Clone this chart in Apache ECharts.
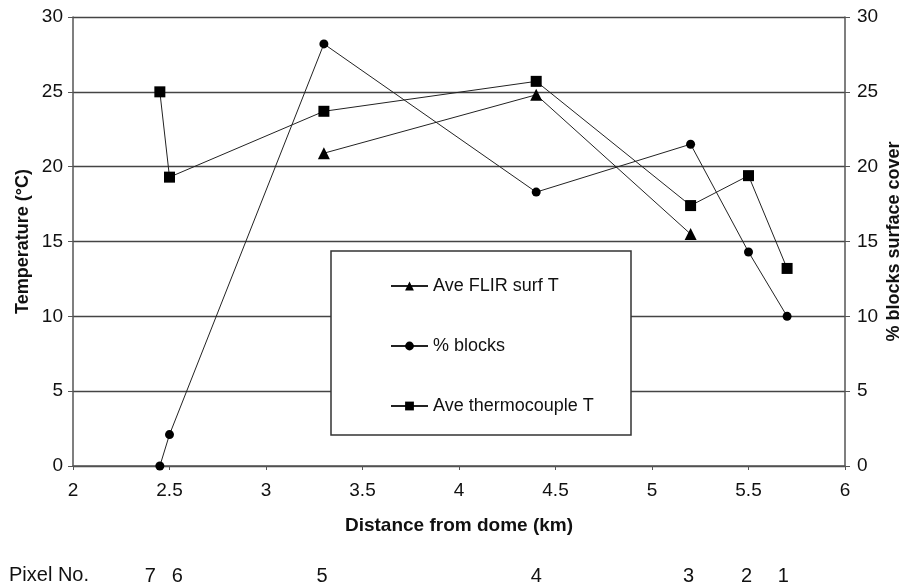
<!DOCTYPE html>
<html lang="en">
<head>
    <meta charset="UTF-8">
    <title>Temperature and block cover vs distance</title>
    <style>
        html,body{
            margin: 0;
            padding: 0;
            background: #fff;
        }
        #chart{
            width: 902px;
            height: 585px;
        }
    </style>
</head>
<body>
    <div id="chart"></div>
<script src="https://cdn.jsdelivr.net/npm/echarts@6/dist/echarts.min.js"></script>
<script>
    // distances (km) and values
    var flirX = [3.3, 4.4, 5.2];
    var flirT = [20.9, 24.8, 15.5];

    var blocksX = [2.45, 2.5, 3.3, 4.4, 5.2, 5.5, 5.7];
    var blocksPct = [0, 2.1, 28.2, 18.3, 21.5, 14.3, 10];

    var tcX = [2.45, 2.5, 3.3, 4.4, 5.2, 5.5, 5.7];
    var tcT = [25, 19.3, 23.7, 25.7, 17.4, 19.4, 13.2];

    var pixelLabels = ['7', '6', '5', '4', '3', '2', '1'];
    var pixelAt = [2.40, 2.54, 3.29, 4.40, 5.19, 5.49, 5.68];

    var font = 'Liberation Sans, Arial, Helvetica, sans-serif';

    function pairs(xs, ys) {
        return xs.map(function (x, i) { return [x, ys[i]]; });
    }

    var myChart = echarts.init(document.getElementById('chart'));

    var lineStyle = { color: '#222', width: 1 };
    var itemStyle = { color: '#000' };

    myChart.setOption({
        animation: false,
        textStyle: { fontFamily: font, color: '#111' },
        grid: { left: 73, right: 57, top: 17, bottom: 119, outerBoundsMode: 'none', containLabel: false },
        legend: {
            orient: 'vertical',
            left: 385,
            top: 272,
            itemGap: 42,
            itemWidth: 37,
            itemHeight: 11,
            z: 20,
            textStyle: { fontSize: 18, fontFamily: font, color: '#111' },
            data: ['Ave FLIR surf T', '% blocks', 'Ave thermocouple T']
        },
        xAxis: {
            type: 'value',
            min: 2,
            max: 6,
            interval: 0.5,
            name: 'Distance from dome (km)',
            nameLocation: 'middle',
            nameGap: 50,
            nameMoveOverlap: false,
            nameTextStyle: { fontSize: 19, fontWeight: 'bold', color: '#111' },
            axisLine: { lineStyle: { color: '#555', width: 1.5 } },
            axisTick: { length: 4, lineStyle: { color: '#555' } },
            axisLabel: { fontSize: 19, margin: 15, color: '#111' },
            splitLine: { show: false }
        },
        yAxis: [{
            type: 'value',
            min: 0,
            max: 30,
            interval: 5,
            name: 'Temperature (°C)',
            nameLocation: 'middle',
            nameGap: 41,
            nameMoveOverlap: false,
            nameTextStyle: { fontSize: 18, fontWeight: 'bold', color: '#111' },
            axisLine: { show: true, lineStyle: { color: '#555', width: 1.5 } },
            axisTick: { show: true, length: 5, lineStyle: { color: '#555' } },
            axisLabel: { fontSize: 19, margin: 10, color: '#111' },
            splitLine: { show: true, lineStyle: { color: '#444', width: 1.3 } }
        }, {
            type: 'value',
            min: 0,
            max: 30,
            interval: 5,
            position: 'right',
            name: '% blocks surface cover',
            nameLocation: 'middle',
            nameGap: 40,
            nameMoveOverlap: false,
            nameTextStyle: { fontSize: 18, fontWeight: 'bold', color: '#111' },
            axisLine: { show: true, lineStyle: { color: '#555', width: 1.5 } },
            axisTick: { show: true, length: 5, lineStyle: { color: '#555' } },
            axisLabel: { fontSize: 19, margin: 12, color: '#111' },
            splitLine: { show: false }
        }],
        series: [{
            name: 'Ave FLIR surf T',
            type: 'line',
            yAxisIndex: 0,
            symbol: 'triangle',
            symbolSize: 12,
            lineStyle: lineStyle,
            itemStyle: itemStyle,
            data: pairs(flirX, flirT)
        }, {
            name: '% blocks',
            type: 'line',
            yAxisIndex: 1,
            symbol: 'circle',
            symbolSize: 9,
            lineStyle: lineStyle,
            itemStyle: itemStyle,
            data: pairs(blocksX, blocksPct)
        }, {
            name: 'Ave thermocouple T',
            type: 'line',
            yAxisIndex: 0,
            symbol: 'rect',
            symbolSize: 11,
            lineStyle: lineStyle,
            itemStyle: itemStyle,
            data: pairs(tcX, tcT)
        }]
    });

    // legend frame and the "Pixel No." row under the axis
    var graphics = [{
        type: 'rect',
        z: 10,
        shape: { x: 331, y: 251, width: 300, height: 184 },
        style: { fill: '#fff', stroke: '#333', lineWidth: 1.5 }
    }, {
        type: 'text',
        left: 9,
        top: 565,
        style: { text: 'Pixel No.', fontSize: 20, fontFamily: font, fill: '#111' }
    }];
    pixelLabels.forEach(function (lab, i) {
        var px = myChart.convertToPixel({ xAxisIndex: 0 }, pixelAt[i]);
        graphics.push({
            type: 'text',
            x: px,
            y: 576,
            style: {
                text: lab, fontSize: 20, fontFamily: font, fill: '#111',
                textAlign: 'center', textVerticalAlign: 'middle'
            }
        });
    });
    myChart.setOption({ graphic: graphics });
</script>
</body>
</html>
